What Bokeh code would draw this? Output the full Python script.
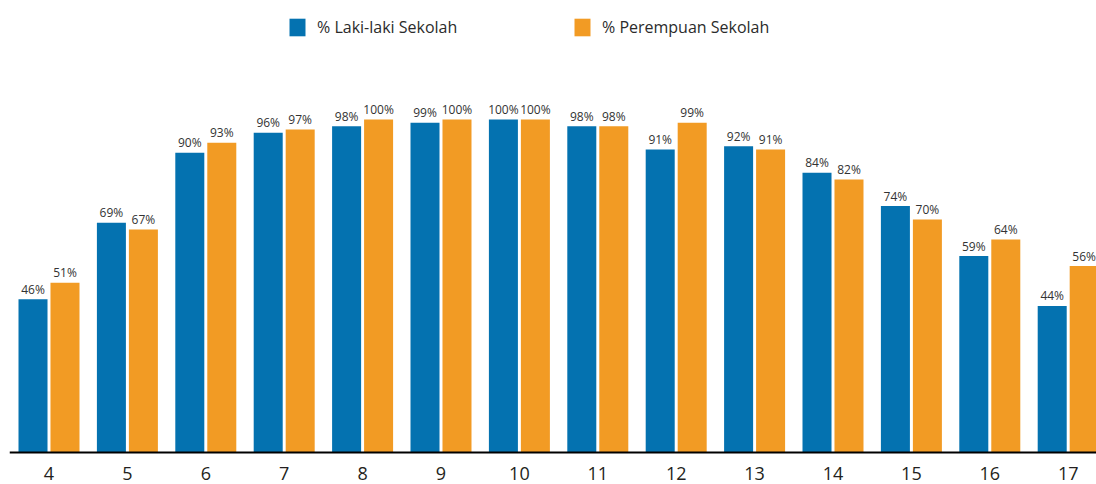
from bokeh.plotting import figure
from bokeh.models import ColumnDataSource, Range1d, FixedTicker, Legend, LegendItem
from bokeh.transform import dodge
from bokeh.core.properties import value
from bokeh.embed import file_html
from bokeh.resources import INLINE

# ---- data ----
ages = ["4", "5", "6", "7", "8", "9", "10", "11", "12", "13", "14", "15", "16", "17"]
laki = [46, 69, 90, 96, 98, 99, 100, 98, 91, 92, 84, 74, 59, 44]
perempuan = [51, 67, 93, 97, 100, 100, 100, 98, 99, 91, 82, 70, 64, 56]
series_names = ["% Laki-laki Sekolah", "% Perempuan Sekolah"]

BLUE = "#0472b0"
ORANGE = "#f29b24"
FONT = "Open Sans"

xs = list(range(len(ages)))
src = ColumnDataSource(dict(
    x=xs,
    age=ages,
    laki=laki,
    perempuan=perempuan,
    laki_lbl=[f"{v}%" for v in laki],
    per_lbl=[f"{v}%" for v in perempuan],
))

p = figure(
    width=1096, height=484,
    output_backend="svg", toolbar_location=None,
    x_range=Range1d(-0.5038, 13.361),
    y_range=Range1d(-9.61, 135.74),
    y_axis_location=None,
    min_border_left=9, min_border_right=0, min_border_top=0, min_border_bottom=0,
)
p.outline_line_color = None
p.xgrid.grid_line_color = None
p.ygrid.grid_line_color = None
p.background_fill_color = "white"
p.border_fill_color = "white"

bw = 0.37
off = 0.204
r_l = p.vbar(x=dodge("x", -off, range=p.x_range), top="laki", bottom=0, width=bw,
             source=src, fill_color=BLUE, line_color=None)
r_p = p.vbar(x=dodge("x", off, range=p.x_range), top="perempuan", bottom=0, width=bw,
             source=src, fill_color=ORANGE, line_color=None)

txt = dict(text_font=value(FONT), text_font_size="12px", text_color="#333333",
           text_align="center", text_baseline="alphabetic", y_offset=-10)
p.text(x=dodge("x", -off, range=p.x_range), y="laki", text="laki_lbl", source=src, **txt)
p.text(x=dodge("x", off, range=p.x_range), y="perempuan", text="per_lbl", source=src, **txt)

ax = p.xaxis[0]
ax.fixed_location = 0
ax.ticker = FixedTicker(ticks=xs)
ax.major_label_overrides = {i: a for i, a in zip(xs, ages)}
ax.major_tick_line_color = None
ax.minor_tick_line_color = None
ax.major_tick_out = 0
ax.major_tick_in = 0
ax.axis_line_color = "black"
ax.axis_line_width = 2
ax.major_label_standoff = 15
ax.major_label_text_font = FONT
ax.major_label_text_font_size = "18px"
ax.major_label_text_color = "#231f20"

for name, rend, xloc in [(series_names[0], r_l, 278), (series_names[1], r_p, 563)]:
    lg = Legend(items=[LegendItem(label=name, renderers=[rend])],
                location=(xloc, 446), orientation="horizontal",
                glyph_width=20, glyph_height=22, label_height=22, label_standoff=10,
                padding=0, margin=0, spacing=0,
                border_line_color=None, background_fill_alpha=0,
                label_text_font=FONT, label_text_font_size="16px",
                label_text_color="#2b2b2b")
    p.add_layout(lg)

open("out.html", "w").write(file_html(p, INLINE))
